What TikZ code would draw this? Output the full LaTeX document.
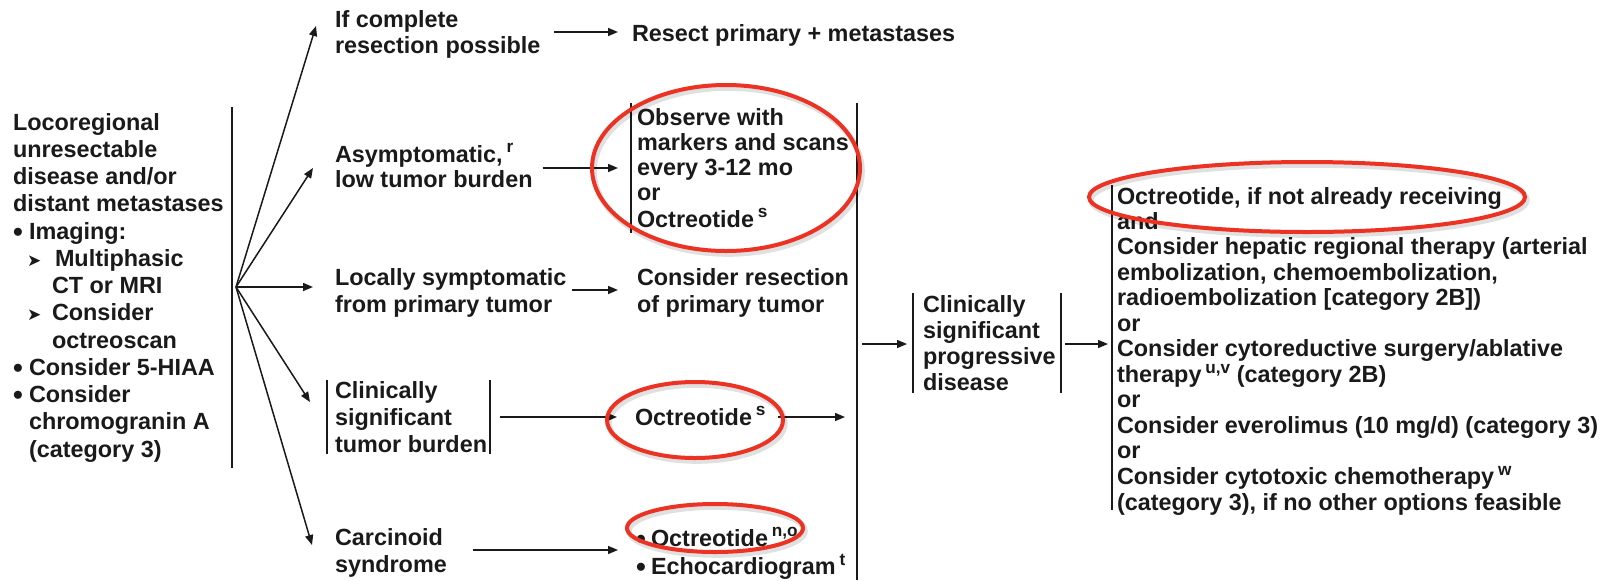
\documentclass[tikz,border=0pt]{standalone}
\usepackage{fontspec}
\setmainfont{Liberation Sans}
\newfontfamily\dejavu{DejaVu Sans}
\usetikzlibrary{arrows.meta,calc}
\definecolor{txt}{HTML}{1A1A1A}
\definecolor{ered}{HTML}{EC3222}
\newcommand\sups[1]{\,\raisebox{0.40em}{\fontsize{8.6}{9}\selectfont #1}}
\newcommand\ml[2]{\fontsize{11.7}{#1}\selectfont\begin{tabular}[t]{@{}l@{}}#2\end{tabular}}
\newcommand\tri{{\dejavu\fontsize{8.5}{9}\selectfont ➤}}
\newcommand\bul{\raisebox{-1.2pt}{\fontsize{14}{14}\selectfont\textbullet}}
\tikzset{
  txtnode/.style={anchor=base west, inner sep=0pt, outer sep=0pt, text=txt, font=\bfseries},
  arr/.style={draw=txt, line width=0.75pt, -{Triangle[length=5pt,width=4pt]}},
  barline/.style={draw=txt, line width=1pt},
  redring/.style={draw=ered, line width=2pt},
  ringshadow/.style={draw=black, opacity=0.12, line width=2.8pt}
}
\begin{document}
\begin{tikzpicture}[x=0.5pt,y=-0.5pt]
\useasboundingbox (0,0) rectangle (1612,580);
\fill[white] (0,0) rectangle (1612,580);

% ---------- text nodes ----------
\node[txtnode] (left) at (13,130) {\ml{13.625pt}{Locoregional\\
unresectable\\
disease and/or\\
distant metastases\\
\makebox[8pt][l]{\bul}Imaging:\\
\hspace*{7pt}\makebox[14pt][l]{\tri}Multiphasic\\
\hspace*{19.5pt}CT or MRI\\
\hspace*{7pt}\makebox[12.5pt][l]{\tri}Consider\\
\hspace*{19.5pt}octreoscan\\
\makebox[8pt][l]{\bul}Consider 5-HIAA\\
\makebox[8pt][l]{\bul}Consider\\
\hspace*{8pt}chromogranin A\\
\hspace*{8pt}(category 3)}};

\node[txtnode] (ifc) at (335,27) {\ml{13pt}{If complete\\resection possible}};
\node[txtnode] (resect) at (632,41) {\fontsize{11.7}{13}\selectfont Resect primary + metastases};
\node[txtnode] (asy) at (335,162) {\ml{12.75pt}{Asymptomatic,\sups{r}\\low tumor burden}};
\node[txtnode] (obs) at (637,125) {\ml{12.65pt}{Observe with\\markers and scans\\every 3-12 mo\\or\\Octreotide\sups{s}}};
\node[txtnode] (loc) at (335,285) {\ml{13.5pt}{Locally symptomatic\\from primary tumor}};
\node[txtnode] (cons) at (637,285) {\ml{13.5pt}{Consider resection\\of primary tumor}};
\node[txtnode] (cst) at (335,398) {\ml{13.5pt}{Clinically\\significant\\tumor burden}};
\node[txtnode] (octa) at (635,425) {\fontsize{11.7}{13}\selectfont Octreotide\sups{s}};
\node[txtnode] (car) at (335,545) {\ml{13.5pt}{Carcinoid\\syndrome}};
\node[txtnode] (octb) at (636,546) {\ml{13pt}{\makebox[7.5pt][l]{\bul}Octreotide\sups{n,o}\\\makebox[7.5pt][l]{\bul}Echocardiogram\sups{t}}};
\node[txtnode] (prog) at (923,312) {\ml{13pt}{Clinically\\significant\\progressive\\disease}};
\node[txtnode] (right) at (1117,204) {\ml{12.7pt}{Octreotide, if not already receiving\\
and\\
Consider hepatic regional therapy (arterial\\
embolization, chemoembolization,\\
radioembolization [category 2B])\\
or\\
Consider cytoreductive surgery/ablative\\
therapy\sups{u,v} (category 2B)\\
or\\
Consider everolimus (10 mg/d) (category 3)\\
or\\
Consider cytotoxic chemotherapy\sups{w}\\
(category 3), if no other options feasible}};

% ---------- bracket bars ----------
\coordinate (fan) at (236,287);
\coordinate (bigtop) at (857,103);
\coordinate (bigbot) at (857,580);
\draw[barline] (232,107) -- (232,468);
\draw[barline] (631,103) -- (631,233);
\draw[barline] (bigtop) -- (bigbot);
\draw[barline] (327,380) -- (327,454);
\draw[barline] (490,380) -- (490,454);
\draw[barline] (913,293) -- (913,393);
\draw[barline] (1061,293) -- (1061,393);
\draw[barline] (1112,185) -- (1112,510);

% ---------- fan arrows ----------
\draw[arr] (fan) -- ($(ifc.west |- 0,26)+(-19,0)$);
\draw[arr] (fan) -- ($(asy.west |- 0,168)+(-22,0)$);
\draw[arr] (fan) -- ($(loc.west |- 0,287)+(-22,0)$);
\draw[arr] (fan) -- ($(cst.west |- 0,402)+(-25,0)$);
\draw[arr] (fan) -- ($(car.west |- 0,545)+(-23,0)$);

% ---------- row arrows ----------
\draw[arr] ($(ifc.east |- 0,32)+(14,0)$) -- ($(resect.west |- 0,32)+(-14,0)$);
\draw[arr] ($(asy.east |- 0,168)+(10,0)$) -- ($(obs.west |- 0,168)+(-19,0)$);
\draw[arr] ($(loc.east |- 0,290)+(6,0)$) -- ($(cons.west |- 0,290)+(-19,0)$);
\draw[arr] ($(cst.east |- 0,417)+(13,0)$) -- ($(octa.west |- 0,417)+(-18,0)$);
\draw[arr] ($(octa.east |- 0,417)+(13,0)$) -- ($(bigtop |- 0,417)+(-12,0)$);
\draw[arr] ($(car.east |- 0,550)+(26,0)$) -- ($(octb.west |- 0,550)+(-18,0)$);
\draw[arr] ($(bigtop |- 0,344)+(5,0)$) -- ($(prog.west |- 0,344)+(-16,0)$);
\draw[arr] ($(prog.east |- 0,344)+(9,0)$) -- ($(right.west |- 0,344)+(-9,0)$);

% ---------- red highlight rings ----------
\draw[ringshadow] (728,171) ellipse [x radius=67pt, y radius=41.5pt];
\draw[ringshadow] (697,423) ellipse [x radius=44pt, y radius=19pt];
\draw[ringshadow] (717,531) ellipse [x radius=44pt, y radius=12pt];
\draw[ringshadow] (1309,200) ellipse [x radius=109pt, y radius=17.5pt];
\draw[redring] (726,168) ellipse [x radius=67pt, y radius=41.5pt];
\draw[redring] (695,420) ellipse [x radius=44pt, y radius=19pt];
\draw[redring] (715,528) ellipse [x radius=44pt, y radius=12pt];
\draw[redring] (1307,197) ellipse [x radius=109pt, y radius=17.5pt];
\end{tikzpicture}
\end{document}
